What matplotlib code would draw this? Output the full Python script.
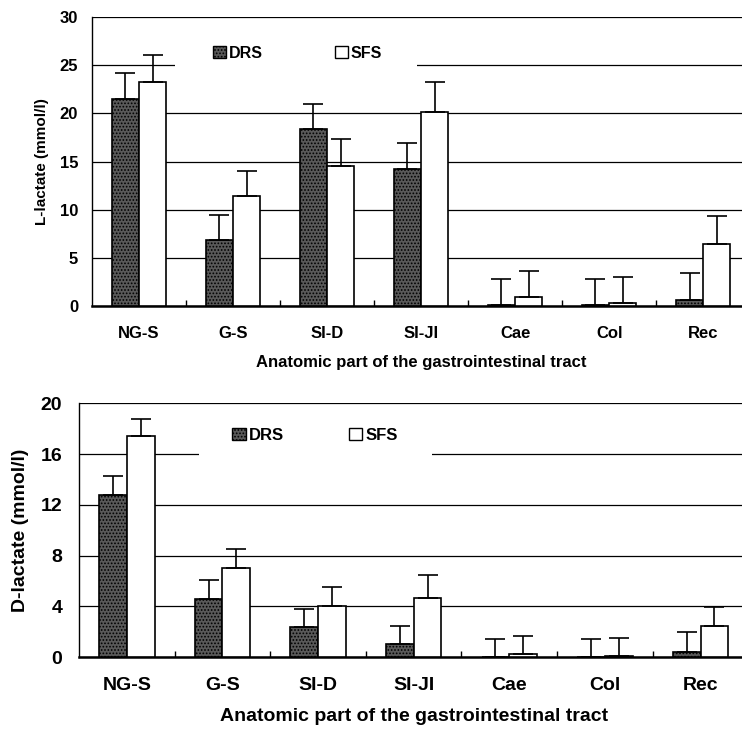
import numpy as np
import matplotlib
matplotlib.use("Agg")
from matplotlib import pyplot as plt
from matplotlib.patches import Patch, Rectangle

plt.rcParams['font.family'] = ['Liberation Sans', 'DejaVu Sans']
plt.rcParams['font.weight'] = 'bold'
plt.rcParams['hatch.color'] = '#9a9a9a'
plt.rcParams['hatch.linewidth'] = 0.8

parts = ['NG-S', 'G-S', 'SI-D', 'SI-JI', 'Cae', 'Col', 'Rec']

# L-lactate (mmol/l)
l_drs = [21.5, 6.85, 18.4, 14.2, 0.1, 0.1, 0.6]
l_drs_err = [2.7, 2.65, 2.6, 2.7, 2.7, 2.7, 2.8]
l_sfs = [23.3, 11.4, 14.5, 20.1, 0.9, 0.3, 6.5]
l_sfs_err = [2.7, 2.65, 2.8, 3.2, 2.7, 2.7, 2.85]

# D-lactate (mmol/l)
d_drs = [12.8, 4.6, 2.35, 1.05, 0.0, 0.0, 0.4]
d_drs_err = [1.45, 1.45, 1.45, 1.45, 1.45, 1.45, 1.55]
d_sfs = [17.4, 7.05, 4.05, 4.7, 0.25, 0.1, 2.45]
d_sfs_err = [1.4, 1.45, 1.45, 1.75, 1.45, 1.45, 1.5]


def draw(ax, drs, drs_err, sfs, sfs_err, ymax, ystep, ylabel,
         fs, lfs, yfs, ypad, leg_xy, colsp, white_box):
    x = np.arange(len(parts))
    w = 0.29
    ebar = dict(ecolor='black', elinewidth=1.2, capsize=7, capthick=1.2)
    ax.bar(x - w, drs, w, align='edge', color='#595959', hatch='.....',
           edgecolor='black', linewidth=1.2, zorder=3,
           yerr=[np.zeros(len(drs)), drs_err], error_kw=ebar)
    ax.bar(x, sfs, w, align='edge', color='white',
           edgecolor='black', linewidth=1.2, zorder=3,
           yerr=[np.zeros(len(sfs)), sfs_err], error_kw=ebar)

    ax.set_xlim(-0.5, len(parts) - 0.5)
    ax.set_ylim(0, ymax)
    ax.set_yticks(np.arange(0, ymax + 0.1, ystep))
    ax.yaxis.grid(True, color='black', linewidth=0.9)
    ax.set_axisbelow(True)
    ax.set_xticks(x)
    ax.set_xticklabels(parts)
    ax.set_xticks(np.arange(0.5, len(parts) - 0.5), minor=True)
    ax.tick_params(axis='x', which='major', length=0, pad=14, labelsize=fs)
    ax.tick_params(axis='x', which='minor', direction='in', length=4, width=1)
    ax.tick_params(axis='y', length=0, pad=ypad, labelsize=fs)
    for s in ['top', 'right']:
        ax.spines[s].set_visible(False)
    ax.spines['left'].set_linewidth(1.0)
    ax.spines['bottom'].set_linewidth(1.8)
    ax.set_ylabel(ylabel, fontsize=yfs, fontweight='bold', labelpad=8)
    ax.set_xlabel('Anatomic part of the gastrointestinal tract',
                  fontsize=fs, fontweight='bold', labelpad=10)

    # white area behind the legend, breaking the gridline like in the original
    ax.add_patch(Rectangle(white_box[:2], white_box[2], white_box[3],
                           transform=ax.transAxes, facecolor='white',
                           edgecolor='none', zorder=1.5))
    handles = [Patch(facecolor='#595959', hatch='.....', edgecolor='black', label='DRS'),
               Patch(facecolor='white', edgecolor='black', label='SFS')]
    ax.legend(handles=handles, loc='center left', bbox_to_anchor=leg_xy, ncol=2,
              frameon=False, handlelength=0.8, handleheight=0.8,
              handletextpad=0.2, columnspacing=colsp, borderpad=0,
              borderaxespad=0, prop={'weight': 'bold', 'size': lfs})


fig = plt.figure(figsize=(7.42, 7.36), dpi=100)
ax1 = fig.add_axes([0.124, 0.584, 0.887, 0.393])
ax2 = fig.add_axes([0.1065, 0.107, 0.902, 0.345])

draw(ax1, l_drs, l_drs_err, l_sfs, l_sfs_err, 30, 5, 'L-lactate (mmol/l)',
     12, 11.5, 11, 10, (0.184, 0.875), 4.5, (0.126, 0.82, 0.368, 0.10))
draw(ax2, d_drs, d_drs_err, d_sfs, d_sfs_err, 20, 4, 'D-lactate (mmol/l)',
     14, 12, 14, 12, (0.229, 0.874), 3.9, (0.179, 0.776, 0.349, 0.157))

fig.savefig('out.png', dpi=100)
